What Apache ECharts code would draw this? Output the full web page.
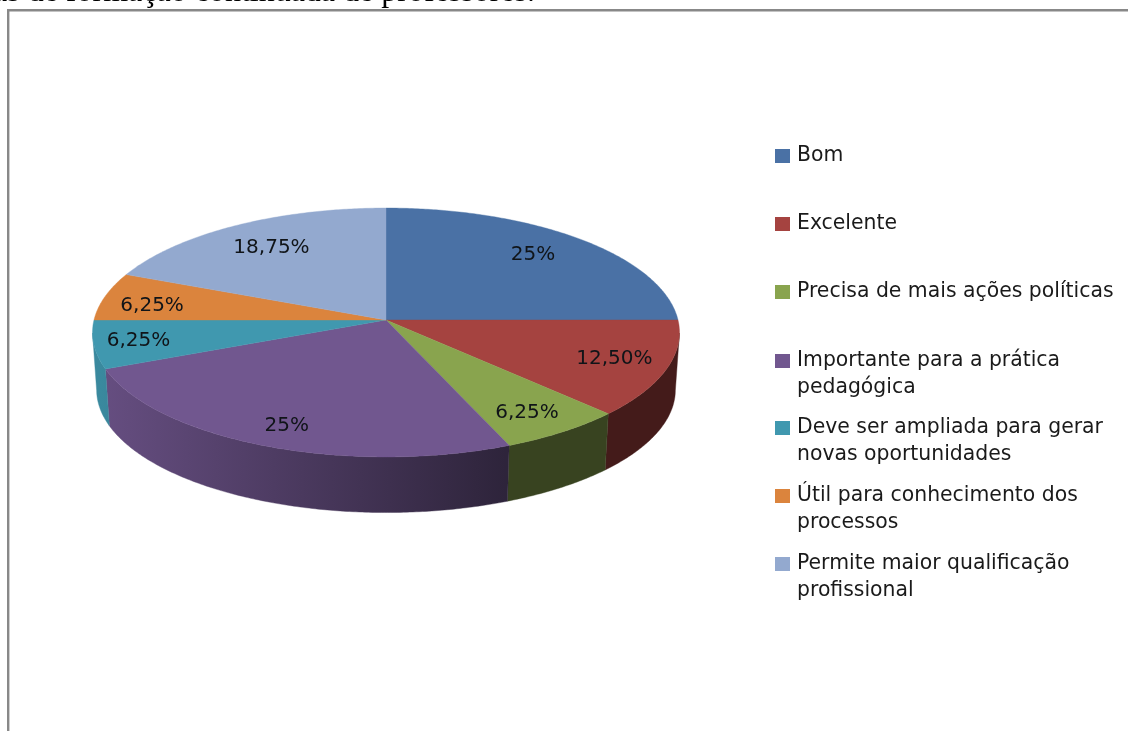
<!DOCTYPE html>
<html lang="pt">
<head>
<meta charset="utf-8">
<title>Formação continuada de professores</title>
<script src="https://cdn.jsdelivr.net/npm/echarts@6/dist/echarts.min.js"></script>
<style>
  html, body { margin: 0; padding: 0; background: #fff; }
  #chart { width: 1128px; height: 731px; }
</style>
</head>
<body>
<div id="chart"></div>
<script>
// Respostas, em percentagem, na ordem horária a partir do topo da pizza
const categories = [
  'Bom',
  'Excelente',
  'Precisa de mais ações políticas',
  'Importante para a prática\npedagógica',
  'Deve ser ampliada para gerar\nnovas oportunidades',
  'Útil para conhecimento dos\nprocessos',
  'Permite maior qualificação\nprofissional'
];
const values = [25, 12.5, 6.25, 25, 6.25, 6.25, 18.75];
const valueLabels = ['25%', '12,50%', '6,25%', '25%', '6,25%', '6,25%', '18,75%'];
const colors = ['#4a71a5', '#a54340', '#89a44e', '#71578f', '#4098af', '#db843d', '#93a9cf'];

// Distância radial de cada rótulo (fração do raio) e ajuste vertical fino
const labelRadius = [0.75, 0.82, 0.81, 0.82, 0.85, 0.83, 0.75];
const labelNudge = [-3, -1, 4, 5, 0, 5, 0];
// Centro vertical da primeira linha de cada item da legenda
const legendRows = [156, 224, 292, 361, 428, 496, 564];

const caption = 'as de formação continuada de professores.';

const FONT = '"DejaVu Sans", sans-serif';
const LINE = 27;

// Projeção em perspectiva do disco: face superior e face inferior
const disc = { cx: 386, cy: 320, a: 292, b: 123.2, k: 0.1004 };
const base = { cy: 377.5, scale: 0.986 };

function project(theta, r, floor) {
  const u = Math.sin(theta) * r;
  const v = -Math.cos(theta) * r;
  const d = 1 - disc.k * v;
  const dx = disc.a * u / d;
  const dy = disc.b * v / d;
  return floor
    ? [disc.cx + dx * base.scale, base.cy + dy * base.scale]
    : [disc.cx + dx, disc.cy + dy];
}

function arc(from, to, floor) {
  const n = Math.max(2, Math.ceil(Math.abs(to - from) / 0.01));
  const pts = [];
  for (let i = 0; i <= n; i++) {
    pts.push(project(from + (to - from) * i / n, 1, floor));
  }
  return pts;
}

function shade(hex, f) {
  const n = parseInt(hex.slice(1), 16);
  const c = [n >> 16, (n >> 8) & 255, n & 255].map(x => Math.round(x * f));
  return 'rgb(' + c.join(',') + ')';
}

// A lateral escurece da esquerda para a direita
function wallFill(hex) {
  return new echarts.graphic.LinearGradient(100, 0, 505, 0, [
    { offset: 0, color: shade(hex, 0.9) },
    { offset: 1, color: shade(hex, 0.41) }
  ], true);
}

const total = values.reduce((s, v) => s + v, 0);
const WALL_FROM = 96 * Math.PI / 180;
const WALL_TO = 264 * Math.PI / 180;

function toAngle(v) { return v / total * 2 * Math.PI; }

let running = 0;
const series = categories.map((cat, i) => {
  const start = running;
  running += values[i];
  return {
    type: 'custom',
    name: cat.replace('\n', ' '),
    coordinateSystem: 'none',
    silent: true,
    itemStyle: { color: colors[i] },
    data: [[values[i], start]],
    renderItem(params, api) {
      const a0 = toAngle(api.value(1));
      const a1 = a0 + toAngle(api.value(0));
      const children = [];

      const w0 = Math.max(a0, WALL_FROM);
      const w1 = Math.min(a1, WALL_TO);
      if (w1 > w0) {
        const pts = arc(w0, w1, false).concat(arc(w1, w0, true));
        const fill = wallFill(colors[i]);
        children.push({
          type: 'polygon',
          shape: { points: pts },
          style: { fill: fill, stroke: fill, lineWidth: 0.4 }
        });
      }

      const top = [[disc.cx, disc.cy]].concat(arc(a0, a1, false));
      children.push({
        type: 'polygon',
        shape: { points: top },
        style: { fill: colors[i], stroke: colors[i], lineWidth: 0.4 }
      });

      const mid = project((a0 + a1) / 2, labelRadius[i], false);
      children.push({
        type: 'text',
        x: mid[0],
        y: mid[1] + labelNudge[i],
        z2: 10,
        style: {
          text: valueLabels[i],
          font: '20px ' + FONT,
          fill: '#101418',
          align: 'center',
          verticalAlign: 'middle'
        }
      });
      return { type: 'group', children: children };
    }
  };
});

// Uma legenda por item: as linhas têm passo constante, mesmo com texto em duas linhas
const legend = categories.map((cat, i) => {
  const twoLines = cat.indexOf('\n') >= 0;
  return {
    data: [cat.replace('\n', ' ')],
    orient: 'vertical',
    left: 775,
    top: legendRows[i] - LINE / 2 - (twoLines ? LINE : 0),
    padding: 0,
    icon: 'rect',
    itemWidth: 15,
    itemHeight: 14,
    selectedMode: false,
    // Com uma linha vazia acima, o símbolo fica alinhado à primeira linha do texto
    formatter: () => (twoLines ? ' \n' : '') + cat,
    textStyle: {
      fontFamily: FONT,
      fontSize: 20.4,
      lineHeight: LINE,
      color: '#1a1a1a',
      padding: [0, 0, 0, 2]
    }
  };
});

const chart = echarts.init(document.getElementById('chart'), null, { renderer: 'canvas' });
chart.setOption({
  backgroundColor: '#ffffff',
  animation: false,
  legend: legend,
  series: series,
  graphic: [
    {
      type: 'polyline',
      silent: true,
      shape: { points: [[8.2, 731], [8.2, 10.2], [1128, 10.2]] },
      style: { stroke: '#888888', lineWidth: 2.4, fill: null }
    },
    {
      type: 'text',
      silent: true,
      x: -7,
      y: 9,
      style: {
        text: caption,
        font: '32px "Liberation Serif", serif',
        fill: '#000',
        align: 'left',
        verticalAlign: 'bottom'
      }
    }
  ]
});
</script>
</body>
</html>
